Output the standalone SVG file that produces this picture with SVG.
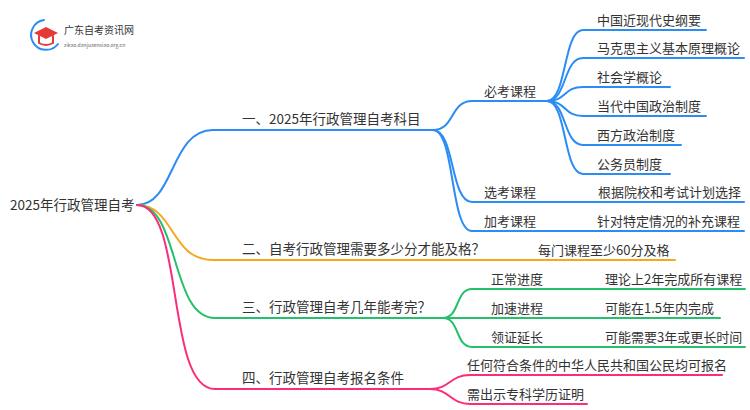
<svg xmlns="http://www.w3.org/2000/svg" width="750" height="410" viewBox="0 0 750 410">
<style>
text{font-family:"Noto Sans CJK SC","Noto Sans",sans-serif;fill:#333;}
.t{font-size:13px;}
.b{font-size:13.5px;}
path{fill:none;stroke-width:2;stroke-linecap:round;}
.bl{stroke:#2a8cf5}.or{stroke:#f5a623}.gr{stroke:#25c06c}.pk{stroke:#fb2d7b}
</style>
<rect width="750" height="410" fill="#fff"/>
<g id="logo">
<path d="M44 20 A15 15 0 1 0 58 44" stroke="#2a8cf5" stroke-width="4"/>
<polygon points="34,33 46,27 58,33 46,39" fill="#e53935"/>
<path d="M39 36 L39 43 Q46 47 53 43 L53 36" stroke="#e53935" stroke-width="3" fill="#e53935"/>
<text x="64" y="34" style="font-size:10px">广东自考资讯网</text>
<text x="64" y="47" style="font-size:5px;fill:#666">zikao.danjuaenxiao.org.cn</text>
</g>
<g id="connectors">
<path class="bl" d="M137 205 C175 205 170 130 213 130 L433 130"/>
<path class="or" d="M137 205 C175 205 170 260 213 260 L520 260 L675 260"/>
<path class="gr" d="M137 205 C180 205 170 318 215 318 L443 318"/>
<path class="pk" d="M137 205 C185 205 165 389 215 389 L430 389"/>
<path class="bl" d="M433 130 C455 130 450 101 472 101 L547 101"/>
<path class="bl" d="M433 130 C455 130 450 202 472 202 L744 202"/>
<path class="bl" d="M433 130 C455 130 450 231 472 231 L744 231"/>
<path class="bl" d="M547 101 C567 101 563 30 583 30 L706 30"/>
<path class="bl" d="M547 101 C567 101 563 58 583 58 L744 58"/>
<path class="bl" d="M547 101 C567 101 563 87 583 87 L670 87"/>
<path class="bl" d="M547 101 C567 101 563 116 583 116 L706 116"/>
<path class="bl" d="M547 101 C567 101 563 145 583 145 L681 145"/>
<path class="bl" d="M547 101 C567 101 563 174 583 174 L670 174"/>
<path class="gr" d="M443 318 C460 318 455 289 472 289 L745 289"/>
<path class="gr" d="M443 318 L720 318"/>
<path class="gr" d="M443 318 C460 318 455 347 472 347 L745 347"/>
<path class="pk" d="M430 389 C450 389 450 375 470 375 L722 375"/>
<path class="pk" d="M430 389 C450 389 450 404 470 404 L587 404"/>
</g>
<g id="root"><text class="b" x="10" y="210">2025年行政管理自考</text></g>
<g id="b1"><text class="b" x="242" y="124">一、2025年行政管理自考科目</text></g>
<g id="b2"><text class="b" x="242" y="254">二、自考行政管理需要多少分才能及格？</text></g>
<g id="b3"><text class="b" x="242" y="312">三、行政管理自考几年能考完？</text></g>
<g id="b4"><text class="b" x="242" y="383">四、行政管理自考报名条件</text></g>
<g id="c1"><text class="t" x="484" y="96">必考课程</text></g>
<g id="c2"><text class="t" x="484" y="197">选考课程</text></g>
<g id="c3"><text class="t" x="484" y="226">加考课程</text></g>
<g id="l1"><text class="t" x="597" y="25">中国近现代史纲要</text></g>
<g id="l2"><text class="t" x="597" y="53">马克思主义基本原理概论</text></g>
<g id="l3"><text class="t" x="597" y="82">社会学概论</text></g>
<g id="l4"><text class="t" x="597" y="111">当代中国政治制度</text></g>
<g id="l5"><text class="t" x="597" y="140">西方政治制度</text></g>
<g id="l6"><text class="t" x="597" y="169">公务员制度</text></g>
<g id="l7"><text class="t" x="598" y="197">根据院校和考试计划选择</text></g>
<g id="l8"><text class="t" x="597" y="226">针对特定情况的补充课程</text></g>
<g id="l9"><text class="t" x="538" y="255">每门课程至少60分及格</text></g>
<g id="c4"><text class="t" x="491" y="284">正常进度</text></g>
<g id="c5"><text class="t" x="491" y="313">加速进程</text></g>
<g id="c6"><text class="t" x="491" y="342">领证延长</text></g>
<g id="l10"><text class="t" x="605" y="284">理论上2年完成所有课程</text></g>
<g id="l11"><text class="t" x="605" y="313">可能在1.5年内完成</text></g>
<g id="l12"><text class="t" x="605" y="342">可能需要3年或更长时间</text></g>
<g id="l13"><text class="t" x="467" y="370">任何符合条件的中华人民共和国公民均可报名</text></g>
<g id="l14"><text class="t" x="467" y="399">需出示专科学历证明</text></g>
</svg>
